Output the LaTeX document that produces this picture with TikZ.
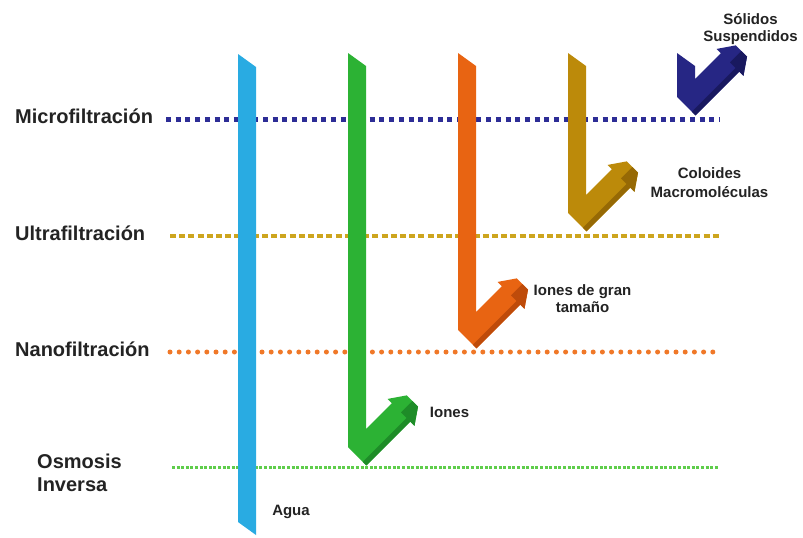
\documentclass[tikz,border=0pt]{standalone}
\usepackage{fontspec}
\setmainfont{Liberation Sans}
\usetikzlibrary{calc}

\definecolor{agua}{RGB}{41,171,226}
\definecolor{ionesc}{RGB}{44,178,52}
\definecolor{ionesd}{RGB}{30,140,40}
\definecolor{granc}{RGB}{232,100,18}
\definecolor{grand}{RGB}{190,75,10}
\definecolor{coloc}{RGB}{188,138,10}
\definecolor{colod}{RGB}{150,105,5}
\definecolor{solc}{RGB}{38,38,132}
\definecolor{sold}{RGB}{25,25,95}
\definecolor{lmicro}{RGB}{45,45,150}
\definecolor{lultra}{RGB}{205,165,30}
\definecolor{lnano}{RGB}{240,120,40}
\definecolor{losmo}{RGB}{95,205,75}
\definecolor{txt}{RGB}{35,35,35}

\tikzset{
  proc/.style={anchor=base west, text=txt, font=\bfseries\fontsize{20}{24}\selectfont, inner sep=0pt},
  lbl/.style={text=txt, font=\bfseries\fontsize{15}{17.5}\selectfont, inner sep=0pt, align=center},
}

% Bent filtration arrow: vertical band, 45 degree arm and block head.
% #1 name, #2 left edge x, #3 top y, #4 y where the band meets the arm cap,
% #5 fill colour, #6 shade colour
\newcommand\filtarrow[6]{%
  \coordinate (#1-A) at (#2,#4);
  \coordinate (#1-S) at ($(#1-A)+(9.19,9.19)$);
  \coordinate (#1-B) at ($(#1-S)+(43.84,-43.84)$);
  \coordinate (#1-F) at ($(#1-B)+(11.31,-11.31)$);
  \fill[#5] (#2,#3) -- ++(18,13) -- ($(#1-A)+(18,-18)$)
    -- ($(#1-B)+(-9.19,-9.19)$) -- ($(#1-B)+(-13.43,-13.43)$)
    -- ($(#1-F)+(-5.66,-5.66)$) -- ($(#1-F)+(5.66,5.66)$)
    -- ($(#1-B)+(13.43,13.43)$) -- ($(#1-B)+(9.19,9.19)$)
    -- ($(#1-A)+(18.38,18.38)$) -- (#1-A) -- cycle;
  \fill[#6] ($(#1-A)+(18.38,18.38)$) -- ($(#1-B)+(9.19,9.19)$)
    -- ($(#1-B)+(5.66,5.66)$) -- ($(#1-A)+(14.85,14.85)$) -- cycle;
  \fill[#6] (#1-B) -- (#1-F) -- ($(#1-F)+(5.66,5.66)$)
    -- ($(#1-B)+(13.43,13.43)$) -- cycle;
}

\begin{document}
\begin{tikzpicture}[x=1pt,y=-1pt]
\useasboundingbox (0,0) rectangle (803,538);
\fill[white] (0,0) rectangle (803,538);

% separation levels
\draw[lmicro, line width=5, dash pattern=on 5 off 4.7] (166,119) -- (719,119);
\draw[lultra, line width=4.5, dash pattern=on 6 off 3.2] (170,236) -- (719,236);
\draw[lnano, line width=5, line cap=round, dash pattern=on 0 off 9.2] (170,352) -- (716,352);
\draw[losmo, line width=3, dash pattern=on 3 off 1.6] (172,467) -- (719,467);

% water passes every membrane
\fill[agua] (238,54) -- (256,67) -- (256,535) -- (238,522) -- cycle;

\filtarrow{ion}{348}{53}{447}{ionesc}{ionesd}
\filtarrow{gran}{458}{53}{330}{granc}{grand}
\filtarrow{colo}{568}{53}{213}{coloc}{colod}
\filtarrow{sol}{677}{53}{97}{solc}{sold}

% process names
\node[proc] (micro) at (15,123.5) {Microfiltración};
\node[proc] (ultra) at (15,240.5) {Ultrafiltración};
\node[proc] (nano) at (15,356.5) {Nanofiltración};
\node[proc] (osmo1) at (37,468) {Osmosis};
\node[proc] (osmo2) at (37,491) {Inversa};

% retained species
\node[lbl, anchor=base] (s1) at (750.5,24) {Sólidos};
\node[lbl, anchor=base] (s2) at (750.5,41) {Suspendidos};
\node[lbl, anchor=base] (c1) at (709.5,178) {Coloides};
\node[lbl, anchor=base] (c2) at (709.5,197.5) {Macromoléculas};
\node[lbl, anchor=base] (g1) at (582.5,295.5) {Iones de gran};
\node[lbl, anchor=base] (g2) at (582.5,312.5) {tamaño};
\node[lbl, anchor=base] (io) at (449.5,417) {Iones};
\node[lbl, anchor=base] (ag) at (291,515.5) {Agua};
\end{tikzpicture}
\end{document}
